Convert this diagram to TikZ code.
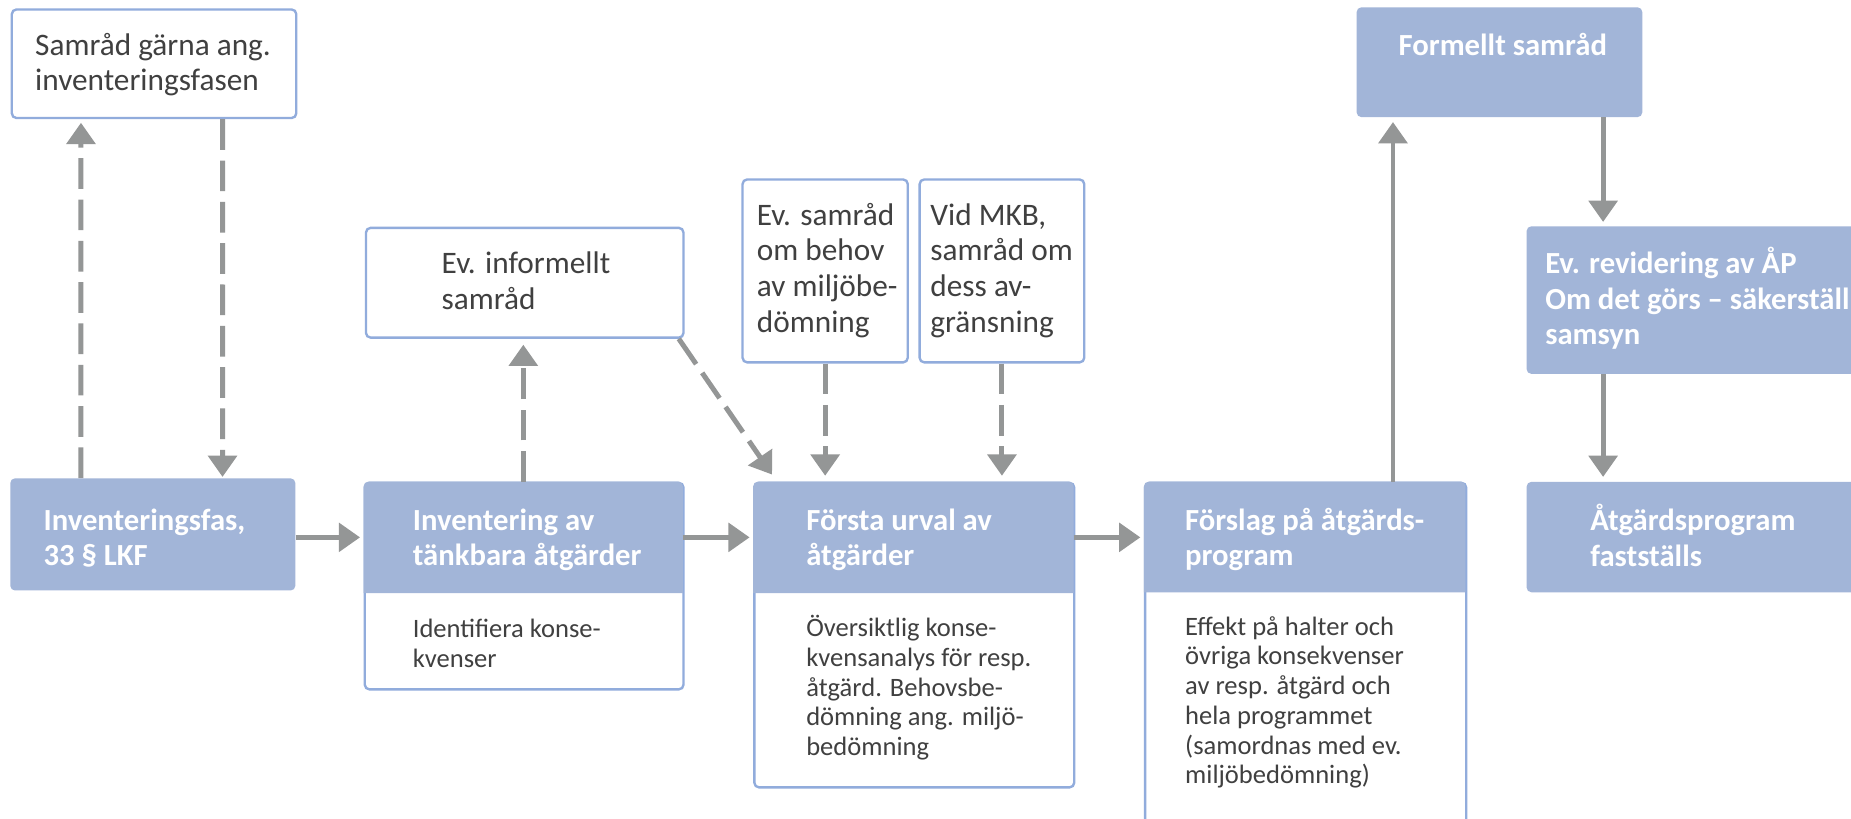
\documentclass[tikz,border=0pt]{standalone}
\usepackage{fontspec}
\setmainfont{Carlito}
\usetikzlibrary{arrows.meta}
\definecolor{hdrblue}{RGB}{162,181,216}
\definecolor{bordblue}{RGB}{145,172,220}
\definecolor{arrowgray}{RGB}{148,150,150}
\definecolor{txtgray}{RGB}{64,64,64}
\newcommand{\txtlines}[1]{\parbox[t]{500pt}{\raggedright #1}}
\tikzset{
  wbox/.style={draw=bordblue, line width=2pt, fill=white, rounded corners=4pt, inner sep=0pt, anchor=north west},
  bbox/.style={fill=hdrblue, rounded corners=4pt, inner sep=0pt, anchor=north west},
  hdrgeo/.style={inner sep=0pt, anchor=north west},
  txt/.style={anchor=base west, inner sep=0pt, text=txtgray, font=\fontsize{26.5}{30.4}\selectfont},
  htxt/.style={anchor=base west, inner sep=0pt, text=white, font=\fontsize{26}{30}\selectfont\bfseries},
  btxt/.style={anchor=base west, inner sep=0pt, text=txtgray, font=\fontsize{22.5}{25.2}\selectfont},
  conn/.style={draw=arrowgray, line width=4.2pt, -{Triangle[length=18pt,width=24pt]}},
  dconn/.style={conn, dash pattern=on 26pt off 9pt},
}
\begin{document}
\begin{tikzpicture}[x=1pt, y=-1pt]
\clip (0,0) rectangle (1568,693);
\fill[white] (0,0) rectangle (1568,693);

% top-left white box
\node[wbox, minimum width=241pt, minimum height=92pt] (A) at (9,7) {};
\node[txt] (At) at (29.6,46.6) {\txtlines{Samråd gärna ang.\\inventeringsfasen}};

% Inventeringsfas
\node[bbox, minimum width=241.5pt, minimum height=95pt] (B) at (8.5,405) {};
\node[htxt] (Bt) at (36.7,449) {\txtlines{Inventeringsfas,\\33 § LKF}};

% Ev. informellt samråd
\node[wbox, minimum width=269pt, minimum height=93pt] (C) at (309,192) {};
\node[txt] (Ct) at (374,231.5) {\txtlines{Ev. informellt\\samråd}};

% Inventering av tänkbara åtgärder
\node[wbox, minimum width=270pt, minimum height=175pt] (Db) at (308,408) {};
\node[hdrgeo, minimum width=270pt, minimum height=94pt] (D) at (308,408) {};
\fill[hdrblue] (D.south west) [rounded corners=4pt] -- (D.north west) -- (D.north east) [sharp corners] -- (D.south east) -- cycle;
\node[htxt] (Dt) at (349.5,449) {\txtlines{Inventering av\\tänkbara åtgärder}};
\node[btxt] (Dbt) at (349.5,540) {\txtlines{Identifiera konse-\\kvenser}};

% two small consultation boxes
\node[wbox, minimum width=140pt, minimum height=155pt] (E) at (628,151) {};
\node[txt] (Et) at (641,190.6) {\txtlines{Ev. samråd\\om behov\\av miljöbe-\\dömning}};
\node[wbox, minimum width=139.5pt, minimum height=155pt] (F) at (778,151) {};
\node[txt] (Ft) at (788,190.6) {\txtlines{Vid MKB,\\samråd om\\dess av-\\gränsning}};

% Första urval av åtgärder
\node[wbox, minimum width=271pt, minimum height=258pt] (Gb) at (638,408) {};
\node[hdrgeo, minimum width=271pt, minimum height=94pt] (G) at (638,408) {};
\fill[hdrblue] (G.south west) [rounded corners=4pt] -- (G.north west) -- (G.north east) [sharp corners] -- (G.south east) -- cycle;
\node[htxt] (Gt) at (682.8,449) {\txtlines{Första urval av\\åtgärder}};
\node[btxt] (Gbt) at (682.8,539.3) {\txtlines{Översiktlig konse-\\kvensanalys för resp.\\åtgärd. Behovsbe-\\dömning ang. miljö-\\bedömning}};

% Förslag på åtgärdsprogram
\node[wbox, minimum width=272pt, minimum height=322pt] (Hb) at (969,408) {};
\node[hdrgeo, minimum width=272pt, minimum height=93.5pt] (H) at (969,408) {};
\fill[hdrblue] (H.south west) [rounded corners=4pt] -- (H.north west) -- (H.north east) [sharp corners] -- (H.south east) -- cycle;
\node[htxt] (Ht) at (1003.8,449) {\txtlines{Förslag på åtgärds-\\program}};
\node[btxt] (Hbt) at (1003.8,538) {\txtlines{Effekt på halter och\\övriga konsekvenser\\av resp. åtgärd och\\hela programmet\\(samordnas med ev.\\miljöbedömning)}};

% Formellt samråd
\node[bbox, minimum width=242pt, minimum height=93pt] (I) at (1149,6) {};
\node[htxt] (It) at (1184.6,47) {\txtlines{Formellt samråd}};

% Ev. revidering
\node[bbox, minimum width=320pt, minimum height=125pt] (J) at (1293,191.5) {};
\node[htxt] (Jt) at (1308.8,232) {\txtlines{Ev. revidering av ÅP\\Om det görs – säkerställ\\samsyn}};

% Åtgärdsprogram fastställs
\node[bbox, minimum width=320pt, minimum height=93.5pt] (K) at (1293,408) {};
\node[htxt] (Kt) at (1347,449.5) {\txtlines{Åtgärdsprogram\\fastställs}};

% connectors
\draw[dconn, shorten >=3pt] ([xshift=60pt]B.north west) -- ([xshift=59.6pt]A.south west);
\draw[dconn, shorten >=1pt] ([xshift=179.6pt]A.south west) -- ([xshift=180pt]B.north west);
\draw[conn, shorten >=3pt] (B.east |- D.west) -- (D.west);
\draw[dconn, shorten >=5pt] ([xshift=135.3pt]D.north west) -- ([xshift=135.3pt]D.north west |- C.south);
\draw[dconn] ([xshift=-5pt]C.south east) -- ([xshift=16pt,yshift=6pt]G.north west);
\draw[dconn, shorten >=5pt] (E.south) -- (E.south |- G.north);
\draw[dconn, shorten >=5pt] (F.south) -- (F.south |- G.north);
\draw[conn, shorten >=3pt] (D.east) -- (D.east -| G.west);
\draw[conn, shorten >=3pt] (G.east) -- (G.east -| H.west);
\draw[conn, shorten >=4pt] ([xshift=211pt]H.north west) -- ([xshift=211pt]H.north west |- I.south);
\draw[conn, shorten >=3.5pt] ([xshift=209pt]I.south west) -- ([xshift=209pt]I.south west |- J.north);
\draw[conn, shorten >=4pt] ([xshift=65pt]J.south west) -- ([xshift=65pt]J.south west |- K.north);
\end{tikzpicture}
\end{document}
